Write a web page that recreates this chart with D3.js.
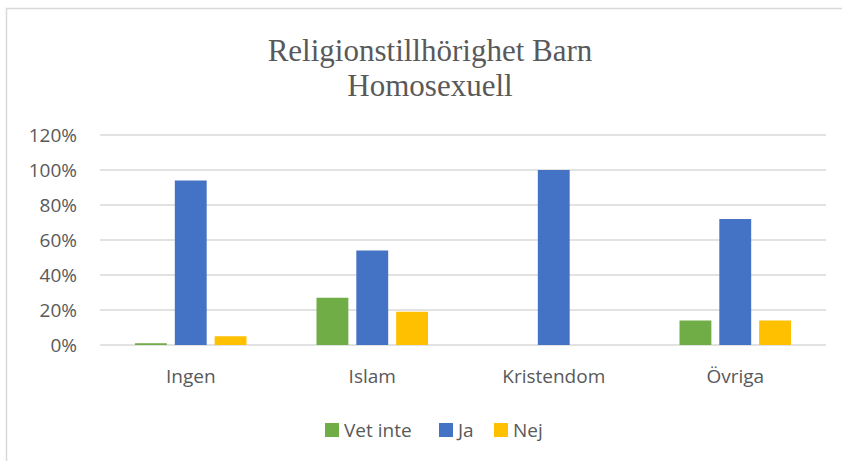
<!DOCTYPE html>
<html>
<head>
<meta charset="utf-8">
<script src="https://cdn.jsdelivr.net/npm/d3@7"></script>
<style>
  body { margin: 0; background: #fff; }
  svg { display: block; }
  .tick-label, .legend-label { font-family: "Open Sans", sans-serif; fill: #595959; }
</style>
</head>
<body>
<div id="chart"></div>
<script>
// Data
const categories = ["Ingen", "Islam", "Kristendom", "Övriga"];
const series = ["Vet inte", "Ja", "Nej"];
const vetInte = [0.01, 0.27, 0, 0.14];
const ja = [0.94, 0.54, 1.00, 0.72];
const nej = [0.05, 0.19, 0, 0.14];
const yTicks = [0, 0.2, 0.4, 0.6, 0.8, 1.0, 1.2];
const titleLines = ["Religionstillhörighet Barn", "Homosexuell"];

const colors = { "Vet inte": "#70AD47", "Ja": "#4472C4", "Nej": "#FFC000" };
const seriesValues = { "Vet inte": vetInte, "Ja": ja, "Nej": nej };

const W = 842, H = 461;
const plot = { left: 100, right: 826, top: 135, bottom: 345 };

const svg = d3.select("#chart")
    .append("svg")
    .attr("width", W)
    .attr("height", H);

// Chart area border (light grey, clipped by window on right/bottom)
svg.append("rect")
    .attr("x", 6.5)
    .attr("y", 8.5)
    .attr("width", W)
    .attr("height", H)
    .attr("fill", "none")
    .attr("stroke", "#d9d9d9")
    .attr("stroke-width", 1.5);

// Title
svg.append("text")
    .attr("x", 430)
    .attr("y", 61)
    .attr("text-anchor", "middle")
    .style("font-family", "'Liberation Serif', 'Times New Roman', serif")
    .style("font-size", "31px")
    .style("fill", "#595959")
    .selectAll("tspan")
    .data(titleLines)
    .enter()
    .append("tspan")
    .attr("x", 430)
    .attr("dy", (d, i) => i === 0 ? 0 : 35)
    .text(d => d);

const x0 = d3.scaleBand()
    .domain(categories)
    .range([plot.left, plot.right]);

const x1 = d3.scaleBand()
    .domain(series)
    .range([35, x0.bandwidth() - 35])
    .paddingInner(0.2);

const y = d3.scaleLinear()
    .domain([0, 1.2])
    .range([plot.bottom, plot.top]);

// Gridlines
svg.append("g")
    .selectAll("line")
    .data(yTicks)
    .enter()
    .append("line")
    .attr("x1", plot.left)
    .attr("x2", plot.right)
    .attr("y1", d => y(d))
    .attr("y2", d => y(d))
    .attr("stroke", "#d9d9d9")
    .attr("stroke-width", 1.3);

// Y axis labels
svg.append("g")
    .selectAll("text")
    .data(yTicks)
    .enter()
    .append("text")
    .attr("class", "tick-label")
    .attr("x", 77)
    .attr("y", d => y(d))
    .attr("dy", "0.35em")
    .attr("text-anchor", "end")
    .style("font-size", "19px")
    .text(d => d3.format(".0%")(d));

// Bars
const groups = svg.append("g")
    .selectAll("g")
    .data(categories)
    .enter()
    .append("g")
    .attr("transform", d => `translate(${x0(d)},0)`);

groups.selectAll("rect")
    .data((d, i) => series.map(s => ({ s, v: seriesValues[s][i] })))
    .enter()
    .append("rect")
    .attr("x", d => x1(d.s))
    .attr("y", d => y(d.v))
    .attr("width", x1.bandwidth())
    .attr("height", d => y(0) - y(d.v))
    .attr("fill", d => colors[d.s]);

// X axis labels
svg.append("g")
    .selectAll("text")
    .data(categories)
    .enter()
    .append("text")
    .attr("class", "tick-label")
    .attr("x", d => x0(d) + x0.bandwidth() / 2)
    .attr("y", 383)
    .attr("text-anchor", "middle")
    .style("font-size", "19px")
    .text(d => d);

// Legend
const legendX = [325, 439, 494];
const legend = svg.append("g")
    .selectAll("g")
    .data(series)
    .enter()
    .append("g")
    .attr("transform", (d, i) => `translate(${legendX[i]},423)`);

legend.append("rect")
    .attr("width", 14)
    .attr("height", 14)
    .attr("fill", d => colors[d]);

legend.append("text")
    .attr("class", "legend-label")
    .attr("x", 19)
    .attr("y", 7)
    .attr("dy", "0.35em")
    .style("font-size", "19px")
    .text(d => d);
</script>
</body>
</html>
